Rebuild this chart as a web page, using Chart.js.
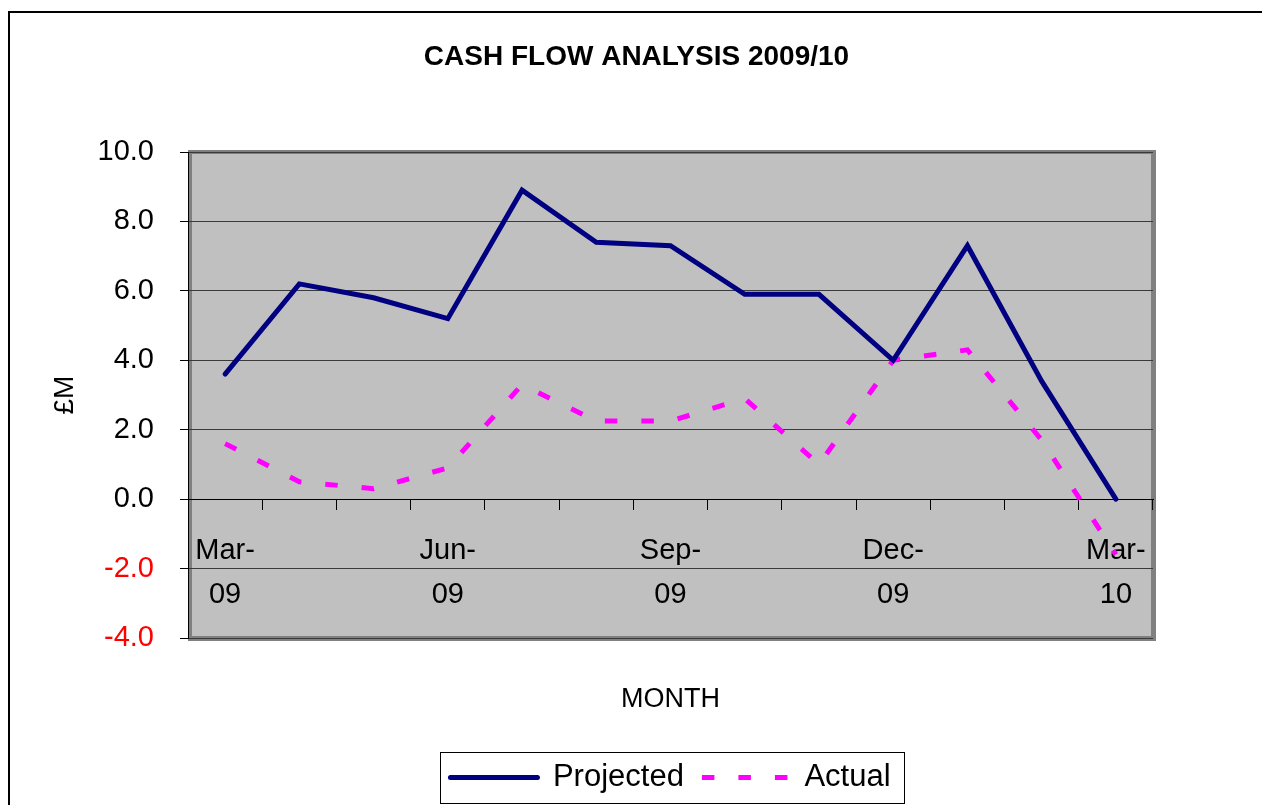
<!DOCTYPE html>
<html lang="en">
<head>
<meta charset="UTF-8">
<title>Cash Flow Analysis 2009/10</title>
<script src="https://cdn.jsdelivr.net/npm/chart.js"></script>
<style>
  html, body { margin: 0; padding: 0; background: #fff; overflow: hidden; }
  #frame { position: absolute; left: 8px; top: 11px; width: 1300px; height: 900px;
           border-left: 2px solid #000; border-top: 2px solid #000; }
  #wrap { position: absolute; left: 0; top: 0; }
</style>
</head>
<body>
<div id="frame"></div>
<div id="wrap"><canvas id="cashChart" width="1262" height="805"></canvas></div>

<script>
// months Mar-09 .. Mar-10
const months = ['Mar-09', 'Apr-09', 'May-09', 'Jun-09', 'Jul-09', 'Aug-09', 'Sep-09',
                'Oct-09', 'Nov-09', 'Dec-09', 'Jan-10', 'Feb-10', 'Mar-10'];
const xTickLabels = [['Mar-', '09'], '', '', ['Jun-', '09'], '', '', ['Sep-', '09'],
                     '', '', ['Dec-', '09'], '', '', ['Mar-', '10']];

// £M
const projected = [3.6, 6.2, 5.8, 5.2, 8.9, 7.4, 7.3, 5.9, 5.9, 4.0, 7.3, 3.4, 0.0];
const actual    = [1.6, 0.5, 0.3, 0.9, 3.3, 2.25, 2.25, 2.9, 1.0, 4.0, 4.3, 1.7, -1.6];

const FONT = "'Liberation Sans', Arial, sans-serif";
Chart.defaults.font.family = FONT;
Chart.defaults.color = '#000';

// grey plot area + frame, and the box round the legend
const plotFrame = {
    id: 'plotFrame',
    beforeDraw(chart) {
        const { ctx, chartArea: a } = chart;
        ctx.save();
        ctx.fillStyle = '#c0c0c0';
        ctx.fillRect(a.left, a.top, a.width, a.height);
        ctx.fillStyle = '#808080';
        ctx.fillRect(a.left, a.top - 2, a.width + 2, 4);
        ctx.fillRect(a.right - 2, a.top - 2, 5, a.height + 5);
        ctx.fillRect(a.left, a.bottom - 2, a.width + 3, 5);
        ctx.fillRect(a.left + 1, a.top, 3, a.height);
        ctx.restore();
    },
    afterDraw(chart) {
        const hb = chart.legend.legendHitBoxes;
        if (!hb || !hb.length) return;
        const l = Math.min(...hb.map(b => b.left)) - 10;
        const r = Math.max(...hb.map(b => b.left + b.width)) + 14;
        const t = hb[0].top - 10;
        const b = hb[0].top + hb[0].height + 10;
        const ctx = chart.ctx;
        ctx.save();
        ctx.strokeStyle = '#000';
        ctx.lineWidth = 1;
        ctx.strokeRect(Math.round(l) + 0.5, Math.round(t) + 0.5, Math.round(r - l), Math.round(b - t));
        ctx.restore();
    }
};

const ctx = document.getElementById('cashChart').getContext('2d');
const cashChart = new Chart(ctx, {
    type: 'line',
    data: {
        labels: months,
        datasets: [{
            label: 'Projected',
            data: projected,
            borderColor: '#000080',
            backgroundColor: '#000080',
            borderWidth: 5,
            borderCapStyle: 'round',
            borderJoinStyle: 'miter',
            tension: 0,
            pointRadius: 0,
            pointHoverRadius: 0,
            xAxisID: 'x',
            yAxisID: 'y'
        }, {
            label: 'Actual',
            data: actual,
            borderColor: '#ff00ff',
            backgroundColor: '#ff00ff',
            borderWidth: 5,
            borderDash: [12.5, 24],
            borderCapStyle: 'butt',
            tension: 0,
            pointRadius: 0,
            pointHoverRadius: 0,
            xAxisID: 'x',
            yAxisID: 'y'
        }]
    },
    options: {
        responsive: false,
        animation: false,
        events: [],
        layout: { padding: { left: 11, right: 0, top: 14, bottom: 2 } },
        scales: {
            x: {
                type: 'category',
                position: { y: 0 },
                offset: true,
                grid: { display: true, drawOnChartArea: false, drawTicks: true, tickLength: 10,
                        tickColor: '#000', offset: true },
                border: { display: true, color: '#000', width: 1 },
                ticks: {
                    autoSkip: false, maxRotation: 0, minRotation: 0, padding: 20,
                    font: { size: 29, lineHeight: 1.52 }, color: '#000',
                    callback: (v, i) => xTickLabels[i]
                }
            },
            x2: {
                type: 'category',
                position: 'bottom',
                grid: { display: false, drawTicks: false },
                border: { display: false },
                ticks: { display: false },
                title: { display: true, text: 'MONTH', color: '#000', font: { size: 27 },
                         padding: { top: 45, bottom: 28.6 } }
            },
            y: {
                position: 'left',
                min: -4,
                max: 10,
                ticks: {
                    stepSize: 2, padding: 26, font: { size: 29 },
                    color: c => c.tick.value < 0 ? '#ff0000' : '#000000',
                    callback: v => v.toFixed(1)
                },
                grid: { color: '#3a3a3a', lineWidth: 1, drawTicks: true, tickLength: 8, tickColor: '#000' },
                border: { display: true, color: '#000', width: 1 },
                title: { display: true, text: '£M', color: '#000', font: { size: 28 },
                         padding: { top: 37, bottom: 0 } },
                afterFit: s => { s.width = 177; }
            },
            yR: {
                type: 'linear',
                position: 'right',
                grid: { display: false },
                border: { display: false },
                ticks: { display: false },
                afterFit: s => { s.width = 109; }
            }
        },
        plugins: {
            title: {
                display: true,
                text: 'CASH FLOW ANALYSIS 2009/10',
                color: '#000',
                font: { size: 28, weight: 'bold' },
                padding: { top: 26, bottom: 78.4 }
            },
            legend: {
                position: 'bottom',
                fullSize: false,
                labels: {
                    usePointStyle: true,
                    pointStyle: 'line',
                    pointStyleWidth: 87,
                    boxHeight: 31,
                    padding: 18,
                    color: '#000',
                    font: { size: 31 },
                    // point-style legend items lose the dash, put it back from the dataset
                    generateLabels: chart => {
                        const items = Chart.defaults.plugins.legend.labels.generateLabels(chart);
                        items.forEach(it => {
                            const ds = chart.data.datasets[it.datasetIndex];
                            it.lineDash = ds.borderDash || [];
                            it.lineCap = ds.borderCapStyle;
                            it.lineWidth = ds.borderWidth;
                            it.strokeStyle = ds.borderColor;
                        });
                        return items;
                    }
                }
            },
            tooltip: { enabled: false }
        }
    },
    plugins: [plotFrame]
});
</script>
</body>
</html>
